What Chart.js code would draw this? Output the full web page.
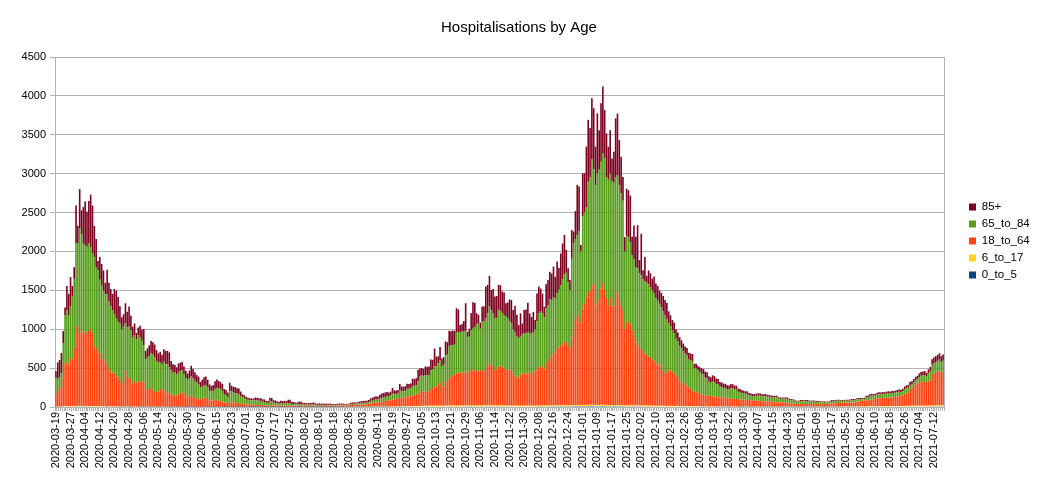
<!DOCTYPE html>
<html>
<head>
<meta charset="utf-8">
<title>Hospitalisations by Age</title>
<script src="https://cdn.jsdelivr.net/npm/chart.js"></script>
<style>
  html, body { margin: 0; padding: 0; background: #fff; }
  #wrap { width: 1038px; height: 482px; }
</style>
</head>
<body>
<div id="wrap"><canvas id="myChart" width="1038" height="482"></canvas></div>
<script>
// one value per day, first day 2020-03-19
const startDate = '2020-03-19'
const labelEvery = 8

const age0to5 = [
  3,4,5,4,6,7,6,5,8,7,6,9,7,8,6,7,9,8,6,7,
  8,6,7,5,6,7,5,6,4,6,5,5,6,4,5,4,5,3,4,
  5,4,4,3,5,4,3,4,4,3,3,4,3,2,3,4,3,3,2,3,
  3,2,3,3,2,2,3,2,2,3,2,2,1,2,2,3,2,1,2,2,
  2,1,2,2,1,1,2,2,1,2,1,1,2,1,1,1,2,1,1,2,
  1,1,2,1,1,1,2,1,1,1,1,1,1,2,1,1,1,1,1,
  1,1,1,2,1,1,1,1,1,1,2,1,1,1,1,1,1,2,1,1,
  1,1,1,1,2,1,1,1,1,1,1,2,1,1,1,2,1,1,2,1,
  2,1,2,2,1,2,2,2,3,2,2,3,2,3,3,3,3,4,3,
  3,4,3,4,4,3,4,5,4,4,5,4,5,5,4,5,6,5,5,6,
  6,5,6,7,6,6,7,6,7,8,7,6,7,8,7,7,8,7,8,9,
  8,7,8,9,8,8,9,8,7,8,9,8,9,8,7,8,9,8,9,10,
  9,8,9,8,8,9,8,8,7,8,8,7,8,7,7,8,7,8,7,
  8,7,8,8,7,8,7,8,9,8,8,9,8,9,9,8,10,9,9,10,
  10,9,10,11,10,9,10,11,12,11,12,11,12,12,11,12,13,12,12,11,
  12,11,12,13,12,11,12,11,11,12,11,10,11,10,10,9,10,10,9,
  10,9,9,10,9,8,9,8,8,9,8,8,7,8,7,7,8,7,7,6,
  7,6,7,6,6,7,6,6,5,6,6,5,6,5,5,6,5,5,5,4,
  5,5,4,5,5,4,5,4,5,4,4,5,4,4,4,5,4,4,4,4,
  4,4,5,4,4,4,4,3,4,4,4,3,4,4,3,4,3,4,3,
  4,3,3,4,3,3,4,3,3,3,4,3,3,3,4,3,3,4,3,3,
  3,4,3,3,4,3,3,4,3,4,4,3,4,4,3,4,4,4,5,4,
  4,5,4,4,5,4,5,5,4,5,5,5,6,5,5,5,6,6,5,
  6,6,5,6,6,7,6,6,7,6,7,7,6,7,8,7,7,8,7,8,
  8,7,8,8,9,8,9,9,8,9,10,9,9
]

const age6to17 = [
  2,3,3,4,4,5,5,4,6,5,6,7,6,7,6,6,7,6,5,6,
  6,5,6,5,5,6,4,5,4,5,4,4,5,4,4,4,4,3,4,
  4,3,4,3,4,3,3,4,3,3,3,3,3,2,3,3,3,2,2,3,
  2,2,3,2,2,2,2,2,2,2,2,2,1,2,2,2,2,1,2,2,
  2,1,2,2,1,1,2,2,1,2,1,1,2,1,1,1,2,1,1,2,
  1,1,2,1,1,1,2,1,1,1,1,1,1,2,1,1,1,1,1,
  1,1,1,2,1,1,1,1,1,1,2,1,1,1,1,1,1,2,1,1,
  2,1,1,2,2,1,2,1,2,2,1,2,2,1,2,2,2,2,3,2,
  3,2,3,3,2,3,3,3,4,3,3,4,3,4,4,4,5,5,4,
  5,5,5,6,5,5,6,6,6,7,6,6,7,6,7,7,8,7,7,8,
  8,7,8,8,8,9,8,9,9,8,9,10,9,9,10,9,10,10,11,10,
  11,10,11,10,11,12,11,10,11,12,11,12,11,12,11,12,12,11,12,13,
  12,11,12,11,12,11,12,11,10,11,11,10,11,10,10,11,10,10,9,
  10,9,10,10,9,10,10,9,11,10,10,11,10,11,11,10,12,11,12,12,
  12,12,13,13,12,11,13,14,15,14,15,14,15,16,15,16,17,16,15,14,
  15,14,16,17,16,14,15,14,14,15,14,13,14,13,13,11,12,12,11,
  12,11,11,12,10,10,11,10,10,10,9,9,9,9,8,8,9,8,8,8,
  8,8,8,7,7,8,7,7,6,7,6,6,6,6,6,6,5,5,6,5,
  5,5,5,5,5,5,5,4,5,5,4,5,4,4,5,5,4,4,4,4,
  4,4,4,4,4,4,4,4,4,4,4,4,4,4,3,4,4,4,4,
  4,4,4,4,4,4,4,4,4,4,4,4,4,4,4,4,4,4,4,4,
  4,4,4,4,4,4,4,4,4,4,5,5,5,5,5,5,5,5,5,5,
  5,5,5,5,6,6,6,6,6,6,6,6,6,6,6,6,6,6,6,
  6,6,6,6,6,7,7,7,7,7,7,7,8,8,8,8,8,9,9,9,
  9,9,9,9,10,10,11,11,12,12,13,12,12
]

const age18to64 = [
  176,216,236,246,366,546,566,536,626,596,
  746,1026,926,986,936,946,956,926,966,986,
  936,766,746,686,606,676,606,586,546,486,
  446,436,416,386,366,326,286,316,456,
  396,366,356,286,326,306,326,316,326,306,
  206,226,236,226,216,196,186,196,226,216,
  196,186,176,186,156,146,136,146,156,176,
  186,166,136,126,136,156,126,116,106,96,
  98,108,118,113,98,83,78,83,93,88,
  78,73,68,58,53,48,68,58,53,53,
  50,50,40,35,35,30,28,28,26,
  25,26,25,24,23,22,20,18,18,22,
  22,18,18,15,15,16,16,17,16,18,
  18,15,14,14,14,15,15,14,14,13,
  14,14,15,15,13,13,14,13,14,14,
  15,14,15,14,14,15,16,17,17,18,
  17,17,19,22,23,24,23,25,26,28,
  28,28,30,33,38,43,48,50,50,
  56,60,63,66,70,73,78,88,86,93,
  102,107,102,107,112,122,122,127,137,142,
  151,161,186,191,186,181,176,181,216,226,
  241,246,276,306,236,246,306,316,336,366,
  386,396,416,426,421,416,426,436,406,416,
  456,446,466,446,436,456,436,456,486,506,
  541,526,506,456,466,501,506,486,476,
  456,466,461,456,426,386,371,346,396,406,
  416,406,426,416,406,426,436,456,486,506,
  494,464,544,584,624,634,684,664,724,744,
  762,782,822,802,762,742,882,982,1102,1132,
  1158,1058,1228,1298,1378,1448,1478,1558,1538,1278,
  1296,1346,1496,1566,1476,1376,1276,1376,1266,1276,
  1478,1418,1358,1278,1228,978,1078,1058,1038,
  960,880,810,770,750,730,700,670,650,630,
  622,592,572,552,532,517,502,452,432,412,
  454,454,434,414,384,354,324,304,294,284,
  266,243,221,200,186,179,166,157,151,146,
  137,137,132,132,128,127,122,117,115,113,
  108,106,104,103,100,98,95,94,92,90,
  86,85,83,83,82,80,78,74,74,
  72,70,65,65,66,65,65,60,58,56,
  52,52,51,52,52,50,48,40,38,36,
  34,33,32,33,32,32,33,32,31,31,
  32,31,30,31,30,30,31,30,31,32,
  38,40,40,43,44,43,46,46,48,48,
  49,51,51,50,57,61,65,67,71,75,
  77,82,87,89,92,99,102,101,105,
  103,106,108,108,111,114,116,121,124,126,
  135,150,156,165,215,235,265,275,285,300,
  304,309,305,304,314,327,404,414,424,429,434,424,434
]

const age65to84 = [
  195,140,140,180,440,620,670,630,660,810,
  890,1060,1170,1300,1270,1140,1110,1120,1130,1060,
  1030,1150,1040,1060,1020,870,880,850,900,860,
  840,800,770,750,720,740,700,720,610,
  620,660,620,600,590,560,590,570,520,480,
  400,400,410,460,460,440,400,370,350,330,
  380,360,370,320,310,290,310,270,280,280,
  280,250,230,220,230,230,240,220,210,190,
  150,150,150,165,150,125,120,120,135,150,
  160,155,135,105,100,75,135,140,130,120,
  120,115,95,90,80,70,62,57,59,
  57,62,60,54,52,43,42,34,32,48,
  46,34,32,27,25,29,26,27,26,32,
  30,23,22,18,19,23,21,16,16,13,
  13,14,15,15,12,11,11,11,11,10,
  10,9,10,8,7,7,9,9,8,8,
  6,6,6,12,13,14,13,15,17,20,
  20,20,21,21,30,31,35,38,38,
  42,48,53,52,58,60,60,75,67,60,
  65,95,85,85,85,100,100,100,115,115,
  115,155,200,200,200,215,215,215,240,240,
  265,260,270,280,270,280,340,340,430,405,
  390,390,520,520,525,535,520,520,470,470,
  515,540,540,600,620,530,640,630,635,680,
  730,700,680,665,660,730,710,700,690,
  687,660,625,600,560,560,515,520,490,510,
  510,530,520,510,520,520,550,630,700,710,
  690,670,710,700,740,720,700,710,720,740,
  780,840,860,900,820,740,1000,1100,1030,1050,
  1070,920,1200,1180,1160,1430,1450,1600,1490,1550,
  1680,1680,1630,1670,1700,1550,1620,1600,1610,1580,
  1450,1540,1470,1450,1400,1000,1100,1100,1060,
  970,1000,970,990,950,950,920,930,930,930,
  900,890,870,830,820,795,760,760,730,700,
  610,570,540,520,480,480,450,440,410,390,
  390,363,365,371,300,304,295,284,265,263,
  230,220,185,170,189,180,165,165,137,134,
  130,127,119,115,133,130,123,122,96,93,
  85,83,77,77,61,58,55,57,61,
  68,68,66,65,66,61,59,58,58,58,
  64,48,47,45,46,48,48,42,42,42,
  32,29,29,37,36,34,36,35,32,30,
  33,29,28,31,25,23,26,22,23,23,
  30,30,27,28,28,24,24,23,24,23,
  25,28,30,28,30,29,27,23,23,37,
  40,48,48,45,45,50,51,51,53,
  51,53,57,55,57,52,56,58,59,55,
  55,67,74,70,52,42,40,52,55,67,
  80,80,89,72,98,117,120,130,135,140,150,130,140
]

const age85plus = [
  85,210,220,260,160,100,310,280,370,140,
  150,490,220,500,310,470,560,450,540,670,
  610,400,360,120,290,280,260,150,310,240,
  220,210,320,350,320,220,160,150,260,
  200,260,190,140,150,80,100,150,140,210,
  110,120,140,160,150,160,140,120,130,120,
  160,170,170,190,120,110,90,90,120,110,
  110,100,100,80,100,140,120,110,90,100,
  70,90,110,110,100,80,70,75,100,110,
  95,90,90,65,65,60,105,75,75,80,
  70,70,60,35,35,30,25,25,23,
  23,32,33,32,33,33,33,26,25,48,
  47,33,32,26,26,33,33,34,32,42,
  42,26,26,22,23,30,30,20,22,20,
  20,22,24,25,17,16,18,16,17,16,
  17,15,16,13,12,12,15,16,14,15,
  11,10,11,16,17,17,16,18,19,22,
  25,24,25,29,35,39,40,40,38,
  50,55,57,60,55,47,50,70,50,47,
  40,85,65,57,60,65,60,65,100,90,
  90,150,95,95,90,110,110,110,140,125,
  230,125,90,170,100,100,180,160,195,185,
  190,175,315,290,90,95,140,360,75,100,
  215,340,310,140,110,80,195,190,405,360,
  395,260,310,280,280,320,330,280,290,
  173,200,280,300,245,340,280,170,300,140,
  303,300,377,260,217,260,114,357,343,290,
  257,135,307,330,355,344,400,280,405,280,
  410,460,507,295,180,130,370,150,360,650,
  580,80,550,500,783,786,630,785,786,493,
  772,507,750,854,615,565,423,557,293,399,
  757,792,579,465,307,186,607,606,601,
  236,435,390,555,170,530,117,310,90,177,
  180,150,220,190,190,170,190,200,200,210,
  150,140,130,140,120,110,110,100,100,90,
  90,80,90,100,60,60,55,60,70,70,
  80,80,70,70,80,80,70,70,60,60,
  55,55,50,50,55,55,50,50,40,40,
  35,35,33,33,30,28,27,27,28,
  28,28,27,26,26,25,24,22,22,22,
  22,18,18,18,18,18,18,16,15,15,
  12,12,12,14,14,14,14,14,13,13,
  13,12,12,12,11,11,11,11,11,11,
  12,12,11,12,12,11,12,11,12,12,
  13,14,14,13,15,15,15,14,15,20,
  20,22,22,21,22,23,24,23,24,
  24,25,26,25,26,26,26,27,28,27,
  30,33,34,35,38,38,40,44,45,48,
  50,50,50,48,52,54,70,72,75,80,85,78,80
]

// one category per day
const days = []
const d0 = new Date(startDate + 'T00:00:00Z')
for (let i = 0; i < age85plus.length; i++) {
  const d = new Date(d0.getTime() + i * 86400000)
  days.push(d.toISOString().slice(0, 10))
}
console.log(days.length, age0to5.length, age6to17.length, age18to64.length, age65to84.length, age85plus.length)

Chart.defaults.font.family = '"Liberation Sans", Arial, sans-serif'
Chart.defaults.color = '#000'

const gridGrey = '#b3b3b3'

function createChart() {
  const ctx = document.getElementById('myChart')
  new Chart(ctx, {
    type: 'bar',
    data: {
      labels: days,
      datasets: [
        { label: '0_to_5', data: age0to5, backgroundColor: '#004586' },
        { label: '6_to_17', data: age6to17, backgroundColor: '#ffd320' },
        { label: '18_to_64', data: age18to64, backgroundColor: '#ff420e' },
        { label: '65_to_84', data: age65to84, backgroundColor: '#579d1c' },
        { label: '85+', data: age85plus, backgroundColor: '#7e0021' }
      ]
    },
    options: {
      responsive: false,
      animation: false,
      events: [],
      barPercentage: 0.88,
      categoryPercentage: 1,
      layout: { padding: 0 },
      plugins: {
        title: {
          display: true,
          text: 'Hospitalisations by Age',
          color: '#000',
          font: { size: 15, weight: 'normal' },
          padding: { top: 19, bottom: 20 }
        },
        legend: {
          position: 'right',
          reverse: true,
          maxWidth: 74.5,
          labels: { boxWidth: 7, boxHeight: 7, padding: 5.5, font: { size: 11.5 } }
        },
        tooltip: { enabled: false }
      },
      scales: {
        x: {
          stacked: true,
          grid: { drawOnChartArea: false, color: gridGrey, tickLength: 4, offset: true },
          border: { color: gridGrey },
          ticks: {
            autoSkip: false,
            minRotation: 90,
            maxRotation: 90,
            padding: 1,
            font: { size: 11 },
            callback: (v, i) => (i % labelEvery === 0 ? days[i] : '')
          },
          afterFit: (s) => { s.height = 75 }
        },
        y: {
          stacked: true,
          min: 0,
          max: 4500,
          ticks: { stepSize: 500, padding: 4, font: { size: 11 }, callback: (v) => String(v) },
          grid: { color: gridGrey, tickLength: 5 },
          border: { color: gridGrey },
          afterFit: (s) => { s.width = 55 }
        },
        // right frame line of the plot
        y2: {
          type: 'linear',
          position: 'right',
          grid: { display: false },
          ticks: { display: false },
          border: { display: true, color: gridGrey },
          afterFit: (s) => { s.width = 94 - s.chart.legend.width }
        }
      }
    }
  })
}

createChart()
</script>
</body>
</html>
